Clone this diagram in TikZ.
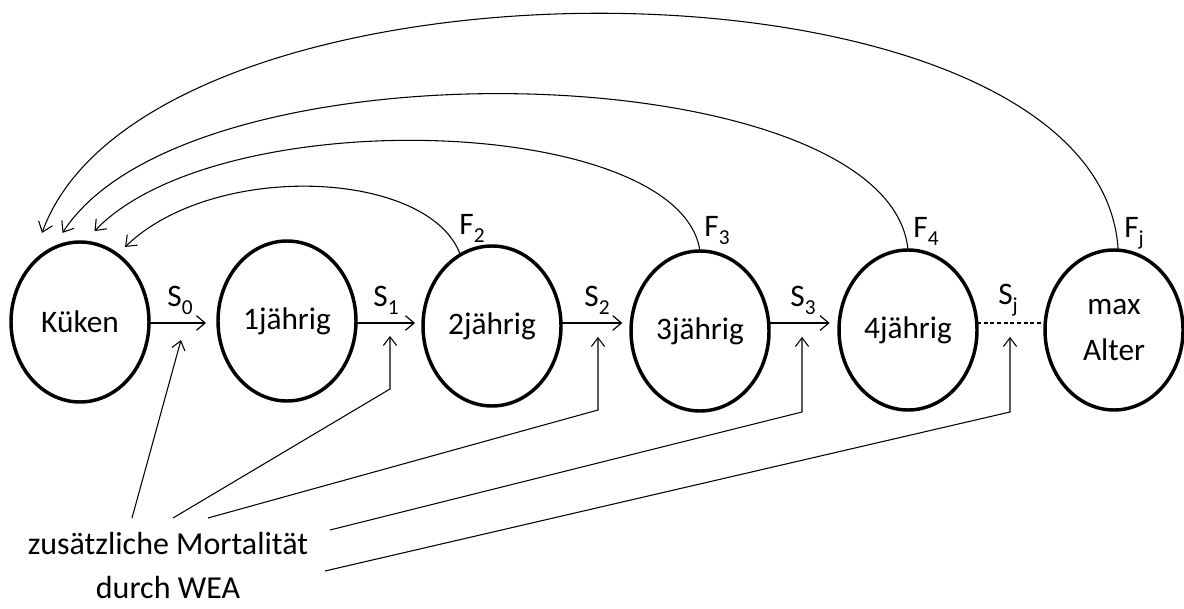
\documentclass[tikz,border=0pt]{standalone}
\usepackage{fontspec}
\setmainfont{Carlito}
\usetikzlibrary{arrows.meta,shapes.geometric}
\newcommand{\lo}[1]{\raisebox{-6pt}{\fontsize{16pt}{16pt}\selectfont #1}}
\begin{document}
\begin{tikzpicture}[x=0.75pt,y=-0.75pt,
  stage/.style={ellipse,draw,line width=2.6pt,minimum width=103.5pt,minimum height=120pt,inner sep=0pt,outer sep=0pt,align=center,font=\fontsize{23.5pt}{27pt}\selectfont},
  lbl/.style={inner sep=0pt,font=\fontsize{23.5pt}{27pt}\selectfont},
  flow/.style={-{Straight Barb[length=6.5pt,width=11pt]},line width=0.9pt},
  fb/.style={-{Straight Barb[length=7pt,width=11pt]},line width=0.8pt},
  mort/.style={-{Straight Barb[length=6.5pt,width=10pt]},line width=0.8pt}]
\useasboundingbox (0,0) rectangle (1184,609);

% stages
\node[stage] (k)  at (80,322)   {Küken};
\node[stage] (n1) at (287,321)  {1jährig};
\node[stage] (n2) at (492,326)  {2jährig};
\node[stage] (n3) at (700,331)  {3jährig};
\node[stage] (n4) at (908,330)  {4jährig};
\node[stage] (n5) at (1114,330) {max\\[7pt]Alter};

% survival arrows
\coordinate (ay) at (0,323);
\draw[flow] (k.east |- ay)  -- ([xshift=-9pt]n1.west |- ay);
\draw[flow] (n1.east |- ay) -- ([xshift=-6pt]n2.west |- ay);
\draw[flow] (n2.east |- ay) -- ([xshift=-6.5pt]n3.west |- ay);
\draw[flow] (n3.east |- ay) -- ([xshift=-7pt]n4.west |- ay);
\draw[line width=0.9pt,dash pattern=on 3pt off 2pt] (n4.east |- ay) -- (n5.west |- ay);

% labels
\node[lbl] (s0) at (180,300)  {S\lo{0}};
\node[lbl] (s1) at (386,300)  {S\lo{1}};
\node[lbl] (s2) at (597,300)  {S\lo{2}};
\node[lbl] (s3) at (803,300)  {S\lo{3}};
\node[lbl] (sj) at (1008,300) {S\lo{j}};
\node[lbl] (f2) at (472,228)  {F\lo{2}};
\node[lbl] (f3) at (717,231)  {F\lo{3}};
\node[lbl] (f4) at (926,231)  {F\lo{4}};
\node[lbl] (fj) at (1134,233) {F\lo{j}};

% fertility arcs
\draw[fb] (n2.114) .. controls (430,170) and (215,160) .. ([shift={(5.6,-9.4)}]k.59);
\draw[fb] (n3.north) .. controls (680,115) and (220,100) .. ([shift={(2,-12.2)}]k.81);
\draw[fb] (n4.north) .. controls (890,55) and (190,35) .. ([shift={(-2.3,-11.1)}]k.101);
\draw[fb] (n5.87) .. controls (1100,-60) and (150,-65) .. ([shift={(-7.5,-17.3)}]k.113);

% additional mortality
\node[inner sep=0pt,align=center,font=\fontsize{24pt}{33pt}\selectfont] (txt) at (168,566) {zusätzliche Mortalität\\durch WEA};
\coordinate (m0) at (132,518); \coordinate (t0) at (181,340);
\coordinate (m1) at (173,518); \coordinate (c1) at (390,389); \coordinate (t1) at (390,336);
\coordinate (m2) at (208,518); \coordinate (c2) at (598,410); \coordinate (t2) at (598,337);
\coordinate (m3) at (330,530); \coordinate (c3) at (802,412); \coordinate (t3) at (802,337);
\coordinate (m4) at (325,571); \coordinate (c4) at (1010,412); \coordinate (t4) at (1010,337);
\draw[mort] (m0) -- (t0);
\draw[mort] (m1) -- (c1) -- (t1);
\draw[mort] (m2) -- (c2) -- (t2);
\draw[mort] (m3) -- (c3) -- (t3);
\draw[mort] (m4) -- (c4) -- (t4);
\end{tikzpicture}
\end{document}
